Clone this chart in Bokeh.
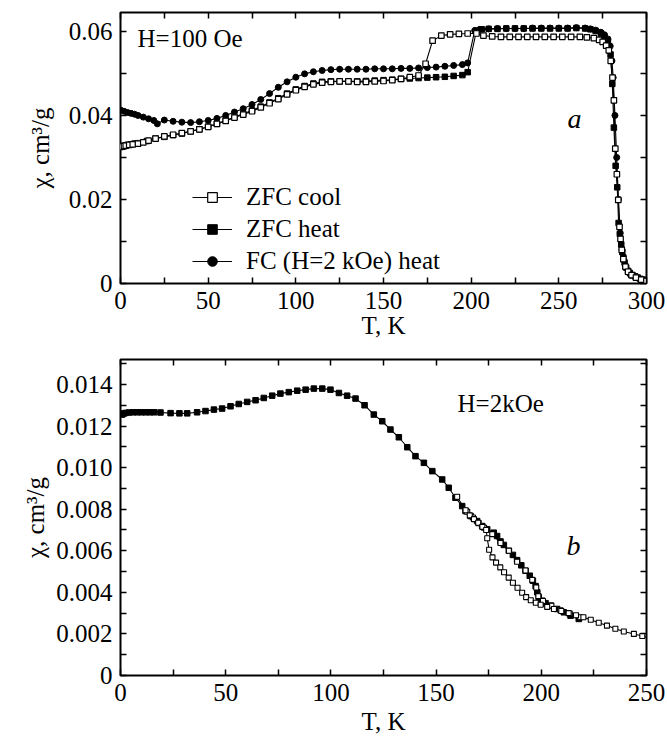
from bokeh.plotting import figure
from bokeh.models import (Range1d, FixedTicker, LinearAxis, CustomJSTickFormatter,
                          Label, Legend, LegendItem)
from bokeh.layouts import column
from bokeh.embed import file_html
from bokeh.resources import INLINE

# ---------------- data: panel a (H = 100 Oe) ----------------
cool_T = [0, 1, 2, 3, 5, 7, 10, 13, 16, 20,
          25, 30, 35, 40, 45, 50, 55, 60, 65, 70, 75, 80, 85, 90, 95, 100, 105, 110, 115, 120,
          125, 130, 135, 140, 145, 150, 155, 160, 165, 170,
          174, 178, 183, 188, 193, 198, 203, 207, 212, 217,
          222, 227, 232, 237, 242, 247, 252, 257, 262, 266,
          270, 273, 275, 277, 278.5, 279.6, 280.6, 281.4, 282.2, 283.1,
          283.9, 284.6, 285.2, 285.9, 286.8, 288, 289.5, 291.5, 294, 297,
          300]
cool_chi = [0.0325, 0.0326, 0.0327, 0.0328, 0.0330, 0.0331, 0.0333, 0.0336, 0.0340, 0.0345,
            0.0350, 0.0354, 0.0358, 0.0362, 0.0367, 0.0373, 0.0380, 0.0387, 0.0395, 0.0402,
            0.0410, 0.0419, 0.0429, 0.0439, 0.0450, 0.0460, 0.0468, 0.0474, 0.0478, 0.0480,
            0.0481, 0.0481, 0.0480, 0.0480, 0.0481, 0.0482, 0.0484, 0.0487, 0.0491, 0.0495,
            0.0523, 0.0578, 0.0590, 0.0593, 0.0594, 0.0595, 0.0595, 0.0590, 0.0588, 0.0587,
            0.0587, 0.0587, 0.0587, 0.0587, 0.0587, 0.0587, 0.0587, 0.0587, 0.0587, 0.0586,
            0.0584, 0.0580, 0.0575, 0.0566, 0.0555, 0.0530, 0.0490, 0.0436, 0.0321, 0.0260,
            0.0199, 0.0135, 0.0106, 0.0080, 0.0058, 0.0040, 0.0028, 0.0020, 0.0014, 0.0009,
            0.0006]

heat_T = [0, 2, 4, 6, 8, 10,
          15, 20, 25, 30, 35, 40, 45, 50, 55, 60, 65, 70, 75, 80, 85, 90, 95, 100, 105,
          110, 115, 120, 125, 130, 135, 140, 145, 150, 155, 160, 165, 170, 175, 180, 185,
          190, 195, 198, 203, 206,
          210, 215, 220, 225, 230, 235, 240, 245, 250, 255, 260, 265,
          268, 271, 274, 276, 278, 279.5, 280.5, 281.4, 282.4, 283.3,
          284.1, 284.8, 285.6, 286.2, 286.8, 287.5, 288.4, 289.5, 290.5, 292,
          293.5, 295, 296.5, 298, 299.5]
heat_chi = [0.0326, 0.0328, 0.0330, 0.0331, 0.0333, 0.0334,
            0.0339, 0.0345, 0.0349, 0.0353, 0.0357, 0.0362, 0.0367, 0.0373, 0.0380, 0.0388,
            0.0396, 0.0404, 0.0412, 0.0421, 0.0431, 0.0441, 0.0452, 0.0462, 0.0470, 0.0476,
            0.0480, 0.0481, 0.0481, 0.0481, 0.0481, 0.0482, 0.0483, 0.0484, 0.0485, 0.0487,
            0.0488, 0.0489, 0.0490, 0.0491, 0.0492, 0.0494, 0.0496, 0.0503, 0.0602, 0.0605,
            0.0606, 0.0606, 0.0607, 0.0607, 0.0607, 0.0607, 0.0607, 0.0607, 0.0607, 0.0607,
            0.0608, 0.0607,
            0.0605, 0.0601, 0.0595, 0.0588, 0.0575, 0.0545, 0.0475, 0.0371, 0.0280, 0.0229,
            0.0144, 0.0118, 0.0093, 0.0075, 0.0062, 0.0050, 0.0038, 0.0030, 0.0025, 0.0020,
            0.0017, 0.0014, 0.0011, 0.0009, 0.0007]

fc_T = [0, 2, 4, 6, 8, 10, 13, 16, 19, 21,
        25, 30, 35, 40, 45, 50, 55, 60, 65, 70, 75, 80, 85, 90, 95, 100, 105, 110, 115, 120,
        125, 130, 135, 140, 145, 150, 155, 160, 165, 170, 175, 180, 185, 190, 195, 198,
        202, 205,
        210, 215, 220, 225, 230, 235, 240, 245, 250, 255, 260, 265,
        268, 271, 274, 276, 278, 279.3, 280.3, 281,
        282, 283, 284, 285, 286, 288, 291, 295, 299]
fc_chi = [0.0413, 0.0410, 0.0407, 0.0405, 0.0403, 0.0400, 0.0396, 0.0392, 0.0388, 0.0380,
          0.0389, 0.0386, 0.0384, 0.0383, 0.0385, 0.0388, 0.0393, 0.0400, 0.0408, 0.0416,
          0.0426, 0.0438, 0.0452, 0.0467, 0.0480, 0.0491, 0.0499, 0.0504, 0.0507, 0.0509,
          0.0510, 0.0510, 0.0510, 0.0510, 0.0511, 0.0511, 0.0511, 0.0512, 0.0512, 0.0513,
          0.0514, 0.0515, 0.0517, 0.0519, 0.0521, 0.0525,
          0.0602, 0.0605,
          0.0606, 0.0607, 0.0607, 0.0607, 0.0607, 0.0608, 0.0608, 0.0608, 0.0608, 0.0608,
          0.0609, 0.0608,
          0.0606, 0.0603, 0.0598, 0.0592, 0.0582, 0.0565, 0.0530, 0.0490,
          0.0400, 0.0300, 0.0200, 0.0120, 0.0080, 0.0040, 0.0020, 0.0013, 0.0008]

# ---------------- data: panel b (H = 2 kOe) ----------------
b_heat_T = [0.8, 1.5, 2.4, 4, 6, 8, 10, 12, 14, 16,
            19, 23.8, 28, 31.7, 36.4, 40.4, 44.4, 48.3, 52.3, 56.2,
            60.2, 64.2, 68.1, 72.1, 76, 80, 84, 88, 91.9, 95.9,
            99.8, 103.8, 107.7, 111.7, 116, 120.4, 124.4, 128.3, 132.3, 136.3,
            140.2, 144.2, 148.2, 152.9, 156, 159.2, 162.4, 164, 166.4, 169.5,
            171.9, 174.3, 177.4, 179, 180.6, 182.2, 184.6, 186.5, 188.5, 190.5,
            192.5, 194.5, 196, 197.3, 198.1, 198.8, 200.4, 202, 204.4, 207.5,
            210.7, 213.9, 217.8]
b_heat_chi = [0.01255, 0.01260, 0.01263, 0.01265, 0.01266, 0.01266, 0.01266, 0.01266, 0.01266, 0.01266,
              0.01265, 0.01262, 0.01261, 0.01261, 0.01266, 0.01272, 0.01279, 0.01284, 0.01295, 0.01306,
              0.01316, 0.01324, 0.01335, 0.01346, 0.01356, 0.01363, 0.01370, 0.01375, 0.01380, 0.01380,
              0.01375, 0.01359, 0.01346, 0.01332, 0.01300, 0.01255, 0.01223, 0.01183, 0.01146, 0.01098,
              0.01055, 0.01023, 0.00983, 0.00943, 0.00903, 0.00855, 0.00815, 0.00791, 0.00767, 0.00743,
              0.00719, 0.00703, 0.00687, 0.00671, 0.00645, 0.00628, 0.00600, 0.00580, 0.00555, 0.00530,
              0.00504, 0.00480, 0.00456, 0.00430, 0.00400, 0.00376, 0.00360, 0.00348, 0.00336, 0.00320,
              0.00304, 0.00288, 0.00272]

b_cool_T = [160, 164, 166, 168, 170, 172, 173.8, 174.3, 175.2, 176.8,
            178.5, 180.5, 182.3, 184.5, 186.5, 188.7, 190.9, 192.8, 195, 197.4,
            199.7, 202.8, 206, 209.5, 213, 216.5, 220, 223.5, 227.3, 231.2,
            235.2, 239.2, 244, 248, 252]
b_cool_chi = [0.00860, 0.00795, 0.00770, 0.00752, 0.00735, 0.00715, 0.00700, 0.00660, 0.00605, 0.00568,
              0.00543, 0.00520, 0.00497, 0.00471, 0.00446, 0.00422, 0.00398, 0.00377, 0.00362, 0.00350,
              0.00340, 0.00330, 0.00320, 0.00310, 0.00300, 0.00290, 0.00280, 0.00268, 0.00254, 0.00240,
              0.00225, 0.00212, 0.00200, 0.00190, 0.00178]

b_up_T = [164.8, 167.5, 170.2, 172.8, 176.7, 180.6, 184.6, 188.5, 192.5, 195.7,
          197.6, 198.6, 200.8, 204.8, 209.1, 213.5, 218.5]
b_up_chi = [0.00788, 0.00760, 0.00733, 0.00711, 0.00680, 0.00637, 0.00600, 0.00547, 0.00505, 0.00460,
            0.00423, 0.00382, 0.00358, 0.00336, 0.00314, 0.00298, 0.00280]

# ticks
a_xticks = [0, 50, 100, 150, 200, 250, 300]
a_xminor = [25, 75, 125, 175, 225, 275]
a_yticks = [0, 0.02, 0.04, 0.06]
a_yminor = [0.01, 0.03, 0.05]
b_xticks = [0, 50, 100, 150, 200, 250]
b_xminor = [25, 75, 125, 175, 225]
b_yticks = [0, 0.002, 0.004, 0.006, 0.008, 0.010, 0.012, 0.014]
b_yminor = [0.001, 0.003, 0.005, 0.007, 0.009, 0.011, 0.013, 0.015]

legend_labels = ["ZFC cool", "ZFC heat", "FC (H=2 kOe) heat"]

FONT = "Liberation Serif"
FS = "25px"


def make_fig(w, h, xr, yr, left, right, top, bottom):
    return figure(width=w, height=h, x_range=Range1d(*xr), y_range=Range1d(*yr),
                  output_backend="svg", toolbar_location=None,
                  min_border_left=left, min_border_right=right,
                  min_border_top=top, min_border_bottom=bottom,
                  outline_line_color="black", outline_line_width=2,
                  background_fill_color="white", border_fill_color="white")


def style(p, xt, xm, yt, ym, ydig, ylab_standoff, xlab_standoff):
    p.xgrid.visible = False
    p.ygrid.visible = False
    fmt_y = CustomJSTickFormatter(code="return tick == 0 ? '0' : tick.toFixed(%d);" % ydig)
    blank = CustomJSTickFormatter(code="return '';")
    xa = p.xaxis[0]
    ya = p.yaxis[0]
    xa.ticker = FixedTicker(ticks=xt, minor_ticks=xm)
    ya.ticker = FixedTicker(ticks=yt, minor_ticks=ym)
    ya.formatter = fmt_y
    xa.axis_label = "T, K"
    ya.axis_label = "\u03c7, cm\u00b3/g"
    xa.axis_label_standoff = xlab_standoff
    ya.axis_label_standoff = ylab_standoff
    extra_x = LinearAxis(ticker=FixedTicker(ticks=xt, minor_ticks=xm), formatter=blank)
    extra_y = LinearAxis(ticker=FixedTicker(ticks=yt, minor_ticks=ym), formatter=blank)
    p.add_layout(extra_x, "above")
    p.add_layout(extra_y, "right")
    for ax in [xa, ya, extra_x, extra_y]:
        ax.axis_line_color = None
        ax.major_tick_in = 6
        ax.major_tick_out = 0
        ax.minor_tick_in = 6
        ax.minor_tick_out = 0
        ax.major_tick_line_width = 1.5
        ax.minor_tick_line_width = 1.5
        ax.major_tick_line_color = "black"
        ax.minor_tick_line_color = "black"
        ax.major_label_text_font = FONT
        ax.major_label_text_font_size = FS
        ax.major_label_text_color = "black"
        ax.major_label_standoff = 8
        ax.axis_label_text_font = FONT
        ax.axis_label_text_font_size = FS
        ax.axis_label_text_font_style = "normal"
        ax.axis_label_text_color = "black"


# ---------------- panel a ----------------
p1 = make_fig(667, 350, (0, 300), (0, 0.0645), 120, 20, 12, 67)
style(p1, a_xticks, a_xminor, a_yticks, a_yminor, 2, 12, 0)

l_cool = p1.line(cool_T, cool_chi, line_color="black", line_width=1.1)
l_heat = p1.line(heat_T, heat_chi, line_color="black", line_width=1.1)
l_fc = p1.line(fc_T, fc_chi, line_color="black", line_width=1.1)
s_fc = p1.scatter(fc_T, fc_chi, marker="circle", size=6, fill_color="black", line_color="black")
s_heat = p1.scatter(heat_T, heat_chi, marker="square", size=5.5, fill_color="black", line_color="black")
s_cool = p1.scatter(cool_T, cool_chi, marker="square", size=5.5, fill_color="white",
                    line_color="black", line_width=1.2)

legend = Legend(items=[LegendItem(label=legend_labels[0], renderers=[l_cool, s_cool]),
                       LegendItem(label=legend_labels[1], renderers=[l_heat, s_heat]),
                       LegendItem(label=legend_labels[2], renderers=[l_fc, s_fc])],
                location=(72, 8), background_fill_alpha=0, border_line_alpha=0,
                label_text_font=FONT, label_text_font_size=FS, label_text_color="black",
                glyph_width=40, glyph_height=24, label_height=24, spacing=4,
                padding=0, margin=0, label_standoff=14)
p1.add_layout(legend)

p1.add_layout(Label(x=9.7, y=0.0583, text="H=100 Oe", text_font=FONT, text_font_size=FS,
                    text_baseline="middle", text_color="black"))
p1.add_layout(Label(x=259, y=0.0393, text="a", text_font=FONT, text_font_size="28px",
                    text_font_style="italic", text_baseline="middle", text_align="center",
                    text_color="black"))

# ---------------- panel b ----------------
p2 = make_fig(667, 388, (0, 250), (0, 0.0152), 120, 21, 9, 63)
style(p2, b_xticks, b_xminor, b_yticks, b_yminor, 3, 4, 4)

p2.line(b_heat_T, b_heat_chi, line_color="black", line_width=1.1)
p2.line(b_cool_T, b_cool_chi, line_color="black", line_width=1.1)
p2.line(b_up_T, b_up_chi, line_color="black", line_width=1.1)
p2.scatter(b_heat_T, b_heat_chi, marker="square", size=5.5, fill_color="black", line_color="black")
p2.scatter(b_up_T, b_up_chi, marker="square", size=5, fill_color="white", line_color="black",
           line_width=1.1)
p2.scatter(b_cool_T, b_cool_chi, marker="square", size=5, fill_color="white", line_color="black",
           line_width=1.1)

p2.add_layout(Label(x=160.2, y=0.0131, text="H=2kOe", text_font=FONT, text_font_size=FS,
                    text_baseline="middle", text_color="black"))
p2.add_layout(Label(x=215.3, y=0.00623, text="b", text_font=FONT, text_font_size="28px",
                    text_font_style="italic", text_baseline="middle", text_align="center",
                    text_color="black"))

layout = column(p1, p2, spacing=0)
open("out.html", "w").write(file_html(layout, INLINE))
